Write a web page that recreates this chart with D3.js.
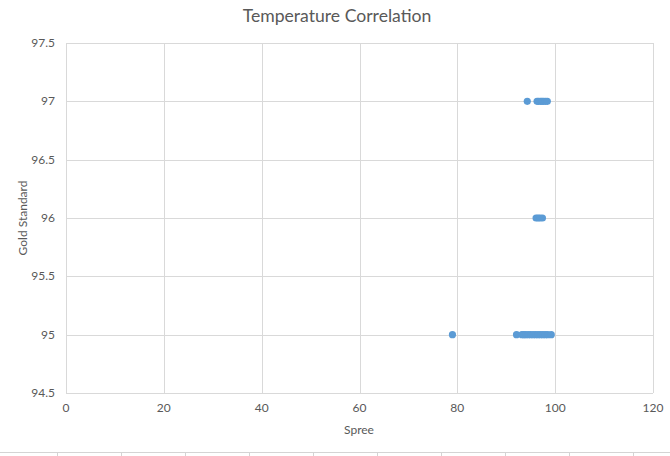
<!DOCTYPE html>
<html><head><meta charset="utf-8">
<script src="https://cdn.jsdelivr.net/npm/d3@7"></script>
<style>body{margin:0;background:#fff}svg{display:block}text{font-family:Lato,"Open Sans",sans-serif;fill:#595959}</style>
</head><body><svg id="c" width="670" height="456"></svg>
<script>
const title = "Temperature Correlation";
const xTitle = "Spree";
const yTitle = "Gold Standard";
const xTicks = [0, 20, 40, 60, 80, 100, 120];
const yTicks = [94.5, 95, 95.5, 96, 96.5, 97, 97.5];
const spree97 = [94.3, 96.3, 96.6, 97, 97.3, 97.6, 98, 98.4];
const spree96 = [96.1, 96.5, 96.9, 97.4];
const spree95 = [79, 92.1, 93.2, 93.6, 94, 94.5, 95, 95.5, 96, 96.5, 97, 97.5, 98, 98.5, 99.2];
const gold = [97, 96, 95];

const svg = d3.select("#c");
const m = {l:66, r:653, t:43, b:393};
const x = d3.scaleLinear().domain([0,120]).range([m.l, m.r]);
const y = d3.scaleLinear().domain([94.5,97.5]).range([m.b, m.t]);

// gridlines
svg.append("g").selectAll("line").data(yTicks).join("line")
  .attr("x1", m.l).attr("x2", m.r)
  .attr("y1", d=>Math.round(y(d))+0.5).attr("y2", d=>Math.round(y(d))+0.5)
  .attr("stroke", "#d9d9d9");
svg.append("g").selectAll("line").data(xTicks).join("line")
  .attr("y1", m.t).attr("y2", m.b)
  .attr("x1", d=>Math.round(x(d))+0.5).attr("x2", d=>Math.round(x(d))+0.5)
  .attr("stroke", "#d9d9d9");

// tick labels
svg.append("g").selectAll("text").data(yTicks).join("text")
  .attr("x", 55).attr("y", d=>y(d)+4).attr("text-anchor","end")
  .attr("font-size", 12).text(d=>d);
svg.append("g").selectAll("text").data(xTicks).join("text")
  .attr("x", d=>x(d)).attr("y", 412).attr("text-anchor","middle")
  .attr("font-size", 12).text(d=>d);

// titles
svg.append("text").attr("x", 337).attr("y", 22).attr("text-anchor","middle")
  .attr("font-size", 17.6).text(title);
svg.append("text").attr("x", 359).attr("y", 434).attr("text-anchor","middle")
  .attr("font-size", 12).text(xTitle);
svg.append("text").attr("transform","translate(27,218) rotate(-90)").attr("text-anchor","middle")
  .attr("font-size", 12).text(yTitle);

// points
const pts = [];
[spree97, spree96, spree95].forEach((arr,i)=>arr.forEach(v=>pts.push([v, gold[i]])));
svg.append("g").selectAll("circle").data(pts).join("circle")
  .attr("cx", d=>x(d[0])).attr("cy", d=>y(d[1])).attr("r", 3.6)
  .attr("fill", "#5b9bd5");

// spreadsheet cell lines at bottom
svg.append("line").attr("x1",0).attr("x2",670).attr("y1",452.5).attr("y2",452.5).attr("stroke","#d4d4d4");
svg.append("g").selectAll("line").data(d3.range(10)).join("line")
  .attr("x1", d=>57.5+d*64).attr("x2", d=>57.5+d*64).attr("y1",452).attr("y2",456).attr("stroke","#d4d4d4");
</script></body></html>
